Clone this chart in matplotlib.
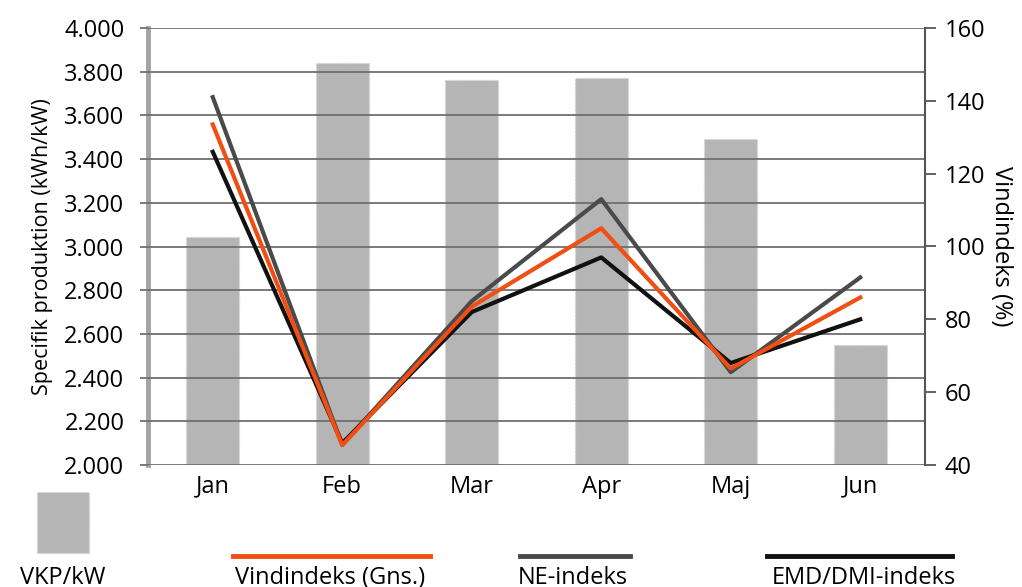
import matplotlib
matplotlib.use("Agg")
import matplotlib.pyplot as plt
from matplotlib.lines import Line2D
from matplotlib.patches import Rectangle

plt.rcParams['font.family'] = ['Open Sans', 'DejaVu Sans']

months = ["Jan", "Feb", "Mar", "Apr", "Maj", "Jun"]
vkp_kw = [3045, 3840, 3760, 3770, 3490, 2550]
vindindeks_gns = [133.5, 45.5, 83.5, 105, 66.5, 86]
ne_indeks = [141, 45.5, 85, 113, 65.5, 91.5]
emd_dmi_indeks = [126, 46, 82, 97, 68, 80]

left_ticks = list(range(2000, 4001, 200))
left_labels = [f"{v // 1000}.{v % 1000:03d}" for v in left_ticks]
right_ticks = list(range(40, 161, 20))

bar_col = "#b5b5b5"
orange = "#f04e12"
ne_col = "#4a4a4a"
emd_col = "#111111"
grid_col = "#6f6f6f"
fs = 17

fig = plt.figure(figsize=(10.22, 5.87), dpi=100)
ax = fig.add_axes([148 / 1022, 1 - 465 / 587, (925 - 148) / 1022, (465 - 28) / 587])
x = list(range(len(months)))

ax.bar(x, vkp_kw, width=0.41, color=bar_col, edgecolor="#d4d4d4",
       linewidth=1, linestyle=":", zorder=1)
ax.set_ylim(2000, 4000)
ax.set_xlim(-0.5, 5.5)
ax.set_axisbelow(False)
ax.set_yticks(left_ticks)
ax.set_yticklabels(left_labels, fontsize=fs)
ax.yaxis.grid(True, color=grid_col, linewidth=1.3)
ax.tick_params(axis="y", length=6, width=1.3, color=grid_col, pad=11)
ax.set_xticks(x)
ax.set_xticklabels(months, fontsize=fs)
ax.tick_params(axis="x", length=0, pad=7)
for s in ["top", "right", "bottom"]:
    ax.spines[s].set_visible(False)
ax.spines["left"].set_color("#a3a3a3")
ax.spines["left"].set_linewidth(3.5)
ax.set_ylabel("Specifik produktion (kWh/kW)", fontsize=15.5, labelpad=8)

ax2 = ax.twinx()
ax2.plot(x, ne_indeks, color=ne_col, linewidth=3)
ax2.plot(x, emd_dmi_indeks, color=emd_col, linewidth=3)
ax2.plot(x, vindindeks_gns, color=orange, linewidth=3)
ax2.set_ylim(40, 160)
ax2.set_yticks(right_ticks)
ax2.tick_params(axis="y", labelsize=fs, length=8, width=1.3, color="#555555", pad=6)
for s in ["top", "left", "bottom"]:
    ax2.spines[s].set_visible(False)
ax2.spines["right"].set_color("#555555")
ax2.spines["right"].set_linewidth(1.5)
ax2.set_ylabel("Vindindeks (%)", fontsize=fs, rotation=-90, labelpad=20)

# legend row under the chart
H = 587.0
W = 1022.0
fig.add_artist(Rectangle((37 / W, 1 - 553 / H), 52 / W, 61 / H, transform=fig.transFigure,
                         facecolor=bar_col, edgecolor="#d4d4d4", linestyle=":", linewidth=1))
legend_lines = [
    (233, 430, orange, "Vindindeks (Gns.)", 330),
    (520, 630, ne_col, "NE-indeks", 573),
    (767, 952, emd_col, "EMD/DMI-indeks", 864),
]
for x0, x1, c, lab, xc in legend_lines:
    fig.add_artist(Line2D([x0 / W, x1 / W], [1 - 556 / H, 1 - 556 / H],
                          transform=fig.transFigure, color=c, linewidth=3.5))
    fig.text(xc / W, 1 - 566 / H, lab, ha="center", va="top", fontsize=fs)
fig.text(63 / W, 1 - 566 / H, "VKP/kW", ha="center", va="top", fontsize=fs)

fig.savefig("out.png", dpi=100)
